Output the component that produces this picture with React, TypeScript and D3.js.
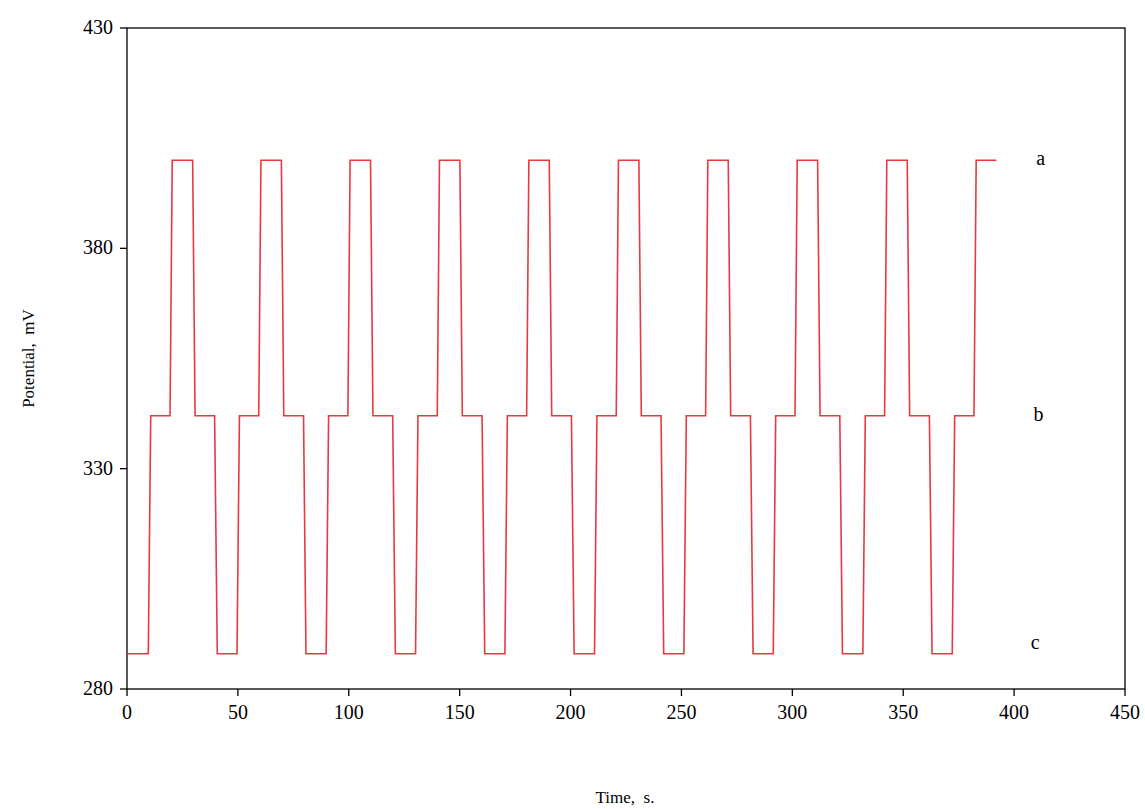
import React from "react";
import * as d3 from "d3";

// Potential trace, [time s, potential mV]
const trace: [number, number][] = [
  [0, 288], [9.6, 288], [10.7, 342], [19.4, 342], [20.4, 400], [29.6, 400], [30.7, 342], [39.5, 342], [40.7, 288],
  [49.6, 288], [50.7, 342], [59.4, 342], [60.4, 400], [69.6, 400], [70.7, 342], [79.6, 342], [80.7, 288],
  [89.8, 288], [90.9, 342], [99.6, 342], [100.6, 400], [109.8, 400], [110.9, 342], [119.8, 342], [121, 288],
  [130.1, 288], [131.2, 342], [139.9, 342], [140.9, 400], [150.1, 400], [151.2, 342], [160.1, 342], [161.3, 288],
  [170.4, 288], [171.5, 342], [180.2, 342], [181.2, 400], [190.4, 400], [191.5, 342], [200.4, 342], [201.6, 288],
  [210.8, 288], [211.9, 342], [220.6, 342], [221.6, 400], [230.8, 400], [231.9, 342], [240.8, 342], [242, 288],
  [251.1, 288], [252.2, 342], [260.9, 342], [261.9, 400], [271.1, 400], [272.2, 342], [281.1, 342], [282.3, 288],
  [291.4, 288], [292.5, 342], [301.2, 342], [302.2, 400], [311.4, 400], [312.5, 342], [321.4, 342], [322.6, 288],
  [331.8, 288], [332.9, 342], [341.6, 342], [342.6, 400], [351.8, 400], [352.9, 342], [361.8, 342], [363, 288],
  [372.1, 288], [373.2, 342], [381.9, 342], [382.9, 400], [392, 400],
];
const xTicks = [0, 50, 100, 150, 200, 250, 300, 350, 400, 450];
const yTicks = [280, 330, 380, 430];
const levelLabels = [
  { text: "a", t: 412, v: 400 },
  { text: "b", t: 411, v: 342 },
  { text: "c", t: 409.5, v: 290.3 },
];

const W = 1145, H = 809;
const m = { left: 127, right: 20, top: 28, bottom: 120 };
const font = "'Liberation Serif', 'Times New Roman', serif";

export default function App() {
  const x = d3.scaleLinear().domain([0, 450]).range([m.left, W - m.right]);
  const y = d3.scaleLinear().domain([280, 430]).range([H - m.bottom, m.top]);
  const line = d3.line<[number, number]>().x((d) => x(d[0])).y((d) => y(d[1]));

  return (
    <svg width={W} height={H} style={{ position: "absolute", left: 0, top: 0, background: "#fff" }}>
      <rect x={x(0)} y={y(430)} width={x(450) - x(0)} height={y(280) - y(430)} fill="none" stroke="#000" strokeWidth={1.3} />
      {xTicks.map((t) => (
        <g key={t}>
          <line x1={x(t)} x2={x(t)} y1={y(280)} y2={y(280) + 7} stroke="#000" strokeWidth={1.3} />
          <text x={x(t)} y={y(280) + 30} textAnchor="middle" fontFamily={font} fontSize={20}>{t}</text>
        </g>
      ))}
      {yTicks.map((t) => (
        <g key={t}>
          <line x1={x(0) - 7} x2={x(0)} y1={y(t)} y2={y(t)} stroke="#000" strokeWidth={1.3} />
          <text x={x(0) - 14} y={y(t) + 6} textAnchor="end" fontFamily={font} fontSize={20}>{t}</text>
        </g>
      ))}
      <path d={line(trace) ?? ""} fill="none" stroke="#e8393f" strokeWidth={1.6} />
      {levelLabels.map((l) => (
        <text key={l.text} x={x(l.t)} y={y(l.v) + 5} textAnchor="middle" fontFamily={font} fontSize={20}>{l.text}</text>
      ))}
      <text x={625} y={803} textAnchor="middle" fontFamily={font} fontSize={17} xmlSpace="preserve">Time,  s.</text>
      <text transform={`translate(34, ${(y(280) + y(430)) / 2}) rotate(-90)`} textAnchor="middle" fontFamily={font} fontSize={17} xmlSpace="preserve">Potential,  mV</text>
    </svg>
  );
}
